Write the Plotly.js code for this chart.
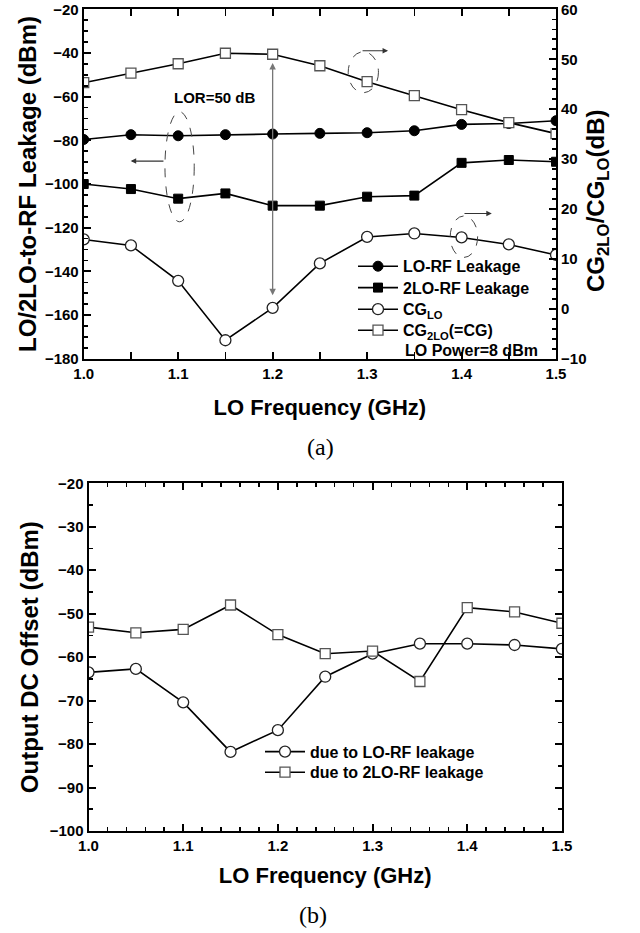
<!DOCTYPE html>
<html>
<head>
<meta charset="utf-8">
<script src="https://cdn.plot.ly/plotly-3.0.1.min.js"></script>
<style>html,body{margin:0;padding:0;background:#fff;}#chart{width:640px;height:933px;}</style>
</head>
<body>
<div id="chart"></div>
<script>
// ---- data ----
const freq = [1.0, 1.05, 1.1, 1.15, 1.2, 1.25, 1.3, 1.35, 1.4, 1.45, 1.5];
// (a) left axis, dBm
const loRfLeakage  = [-79.6, -77.4, -77.9, -77.4, -77.1, -76.8, -76.5, -75.6, -72.7, -72.3, -71.0];
const lo2RfLeakage = [-100.0, -102.3, -106.7, -104.3, -109.9, -109.9, -105.8, -105.3, -90.3, -89.0, -89.8];
// (a) right axis, dB
const cgLo  = [13.9, 12.7, 5.6, -6.3, 0.2, 9.1, 14.4, 15.1, 14.3, 12.9, 10.8];
const cg2Lo = [45.3, 47.2, 49.1, 51.2, 51.0, 48.7, 45.5, 42.7, 39.9, 37.3, 35.1];
// (b) output DC offset, dBm
const dcDueLoRf  = [-63.5, -62.7, -70.4, -81.8, -76.8, -64.5, -59.2, -56.9, -56.9, -57.2, -58.1];
const dcDue2LoRf = [-53.1, -54.4, -53.6, -48.0, -54.8, -59.2, -58.6, -65.6, -48.6, -49.6, -52.2];

const legendNames = ['LO-RF Leakage', '2LO-RF Leakage', 'CG<sub>LO</sub>', 'CG<sub>2LO</sub>(=CG)'];
const legendNamesB = ['due to LO-RF leakage', 'due to 2LO-RF leakage'];

const FONT = 'Liberation Sans, Arial, Helvetica, sans-serif';
const bold = (size) => ({family: FONT, size: size, color: '#000', weight: 'bold'});

const lineStyle = {color: '#000', width: 1.6};
const filled = (sym, size) => ({symbol: sym, size: size, color: '#000', line: {color: '#000', width: 1}});
const open = (sym, size, lc) => ({symbol: sym, size: size, color: '#fff', line: {color: lc, width: 1.3}});

const traces = [
  {x: freq, y: loRfLeakage, name: legendNames[0], mode: 'lines+markers', line: lineStyle,
   marker: filled('circle', 10), xaxis: 'x', yaxis: 'y', legend: 'legend'},
  {x: freq, y: lo2RfLeakage, name: legendNames[1], mode: 'lines+markers', line: lineStyle,
   marker: filled('square', 9), xaxis: 'x', yaxis: 'y', legend: 'legend3'},
  {x: freq, y: cgLo, name: legendNames[2], mode: 'lines+markers', line: lineStyle,
   marker: open('circle', 11, '#222'), xaxis: 'x', yaxis: 'y2', legend: 'legend4'},
  {x: freq, y: cg2Lo, name: legendNames[3], mode: 'lines+markers', line: lineStyle,
   marker: open('square', 10, '#555'), xaxis: 'x', yaxis: 'y2', legend: 'legend5'},
  {x: freq, y: dcDueLoRf, name: legendNamesB[0], mode: 'lines+markers', line: lineStyle,
   marker: open('circle', 11, '#222'), xaxis: 'x2', yaxis: 'y3', legend: 'legend2'},
  {x: freq, y: dcDue2LoRf, name: legendNamesB[1], mode: 'lines+markers', line: lineStyle,
   marker: open('square', 10, '#555'), xaxis: 'x2', yaxis: 'y3', legend: 'legend6'}
];

const axBase = {
  showline: true, linecolor: '#000', linewidth: 2, showgrid: false, zeroline: false,
  ticks: 'inside', ticklen: 7, tickwidth: 2, tickcolor: '#000',
  tickfont: bold(15), fixedrange: true
};
const minor = (d) => ({dtick: d, ticks: 'inside', ticklen: 4, tickwidth: 1.6, tickcolor: '#000', showgrid: false});

const leg = (xPx, topPx) => ({
  x: xPx / 640, y: (933 - topPx) / 933, xanchor: 'left', yanchor: 'top', bgcolor: 'rgba(0,0,0,0)',
  borderwidth: 0, font: bold(16), itemwidth: 40, tracegroupgap: 0
});

const layout = {
  width: 640, height: 933, autosize: false,
  margin: {l: 0, r: 0, t: 0, b: 0, pad: 0},
  paper_bgcolor: '#fff', plot_bgcolor: '#fff',
  font: bold(15),
  showlegend: true,
  xaxis: Object.assign({}, axBase, {
    domain: [0.1308, 0.8688], anchor: 'y', range: [1.0, 1.5], dtick: 0.1, tick0: 1.0,
    tickformat: '.1f', mirror: 'allticks', minor: minor(0.05),
    title: {text: 'LO Frequency (GHz)', font: bold(22), standoff: 19}
  }),
  yaxis: Object.assign({}, axBase, {
    domain: [0.6155, 0.990], anchor: 'x', range: [-180, -20], dtick: 20, minor: minor(5),
    title: {text: 'LO/2LO-to-RF Leakage (dBm)', font: bold(24), standoff: 2}
  }),
  yaxis2: Object.assign({}, axBase, {
    overlaying: 'y', side: 'right', anchor: 'x', range: [-10, 60], dtick: 10, minor: minor(2)
  }),
  xaxis2: Object.assign({}, axBase, {
    domain: [0.1383, 0.878], anchor: 'y3', range: [1.0, 1.5], dtick: 0.1, tick0: 1.0,
    tickformat: '.1f', mirror: 'allticks', minor: minor(0.02),
    title: {text: 'LO Frequency (GHz)', font: bold(22), standoff: 15}
  }),
  yaxis3: Object.assign({}, axBase, {
    domain: [0.1093, 0.482], anchor: 'x2', range: [-100, -20], dtick: 10, mirror: 'allticks', minor: minor(5),
    title: {text: 'Output DC Offset (dBm)', font: bold(24), standoff: 4}
  }),
  legend: leg(353, 249.3),
  legend3: leg(353, 270.7),
  legend4: leg(353, 292.3),
  legend5: leg(353, 313.3),
  legend2: leg(260, 734.7),
  legend6: leg(260, 755.3),
  shapes: [
    {type: 'circle', xref: 'x', yref: 'y', x0: 1.086, x1: 1.117, y0: -117.3, y1: -66.9,
     line: {color: '#444', width: 1, dash: 'dash'}},
    {type: 'circle', xref: 'x', yref: 'y2', x0: 1.280, x1: 1.312, y0: 43.3, y1: 51.5,
     line: {color: '#444', width: 1, dash: 'dash'}},
    {type: 'circle', xref: 'x', yref: 'y2', x0: 1.388, x1: 1.417, y0: 10.3, y1: 18.6,
     line: {color: '#444', width: 1, dash: 'dash'}}
  ],
  annotations: [
    {text: 'LOR=50 dB', xref: 'x', yref: 'y', x: 1.138, y: -60.6, showarrow: false, font: bold(15)},
    {text: '', xref: 'x', yref: 'y', x: 1.2, y: -44.6, axref: 'x', ayref: 'y', ax: 1.2, ay: -151.6,
     showarrow: true, arrowside: 'end+start', arrowhead: 2, arrowsize: 1, arrowwidth: 1.3, arrowcolor: '#777', standoff: 0, startstandoff: 0},
    {text: '', xref: 'x', yref: 'y', x: 1.0497, y: -89.5, axref: 'x', ayref: 'y', ax: 1.086, ay: -89.5,
     showarrow: true, arrowhead: 2, arrowsize: 1, arrowwidth: 1.1, arrowcolor: '#333', standoff: 0},
    {text: '', xref: 'x', yref: 'y2', x: 1.3222, y: 51.7, axref: 'x', ayref: 'y2', ax: 1.2936, ay: 51.7,
     showarrow: true, arrowhead: 2, arrowsize: 1, arrowwidth: 1.1, arrowcolor: '#333', standoff: 0},
    {text: '', xref: 'x', yref: 'y2', x: 1.432, y: 19.1, axref: 'x', ayref: 'y2', ax: 1.4015, ay: 19.1,
     showarrow: true, arrowhead: 2, arrowsize: 1, arrowwidth: 1.1, arrowcolor: '#333', standoff: 0},
    {text: 'LO Power=8 dBm', xref: 'paper', yref: 'paper', x: 403 / 640, y: (933 - 350.7) / 933,
     xanchor: 'left', yanchor: 'middle', showarrow: false, font: bold(16)},
    {text: 'CG<sub>2LO</sub>/CG<sub>LO</sub>(dB)', xref: 'paper', yref: 'paper', x: 598 / 640, y: (933 - 201) / 933,
     xanchor: 'center', yanchor: 'middle', textangle: -90, showarrow: false, font: bold(24)},
    {text: '(a)', xref: 'paper', yref: 'paper', x: 320 / 640, y: (933 - 447) / 933,
     xanchor: 'center', yanchor: 'middle', showarrow: false,
     font: {family: 'Liberation Serif, Times New Roman, serif', size: 24, color: '#000', weight: 'normal'}},
    {text: '(b)', xref: 'paper', yref: 'paper', x: 313 / 640, y: (933 - 915) / 933,
     xanchor: 'center', yanchor: 'middle', showarrow: false,
     font: {family: 'Liberation Serif, Times New Roman, serif', size: 24, color: '#000', weight: 'normal'}}
  ]
};

Plotly.newPlot('chart', traces, layout, {displayModeBar: false, staticPlot: true});
</script>
</body>
</html>
